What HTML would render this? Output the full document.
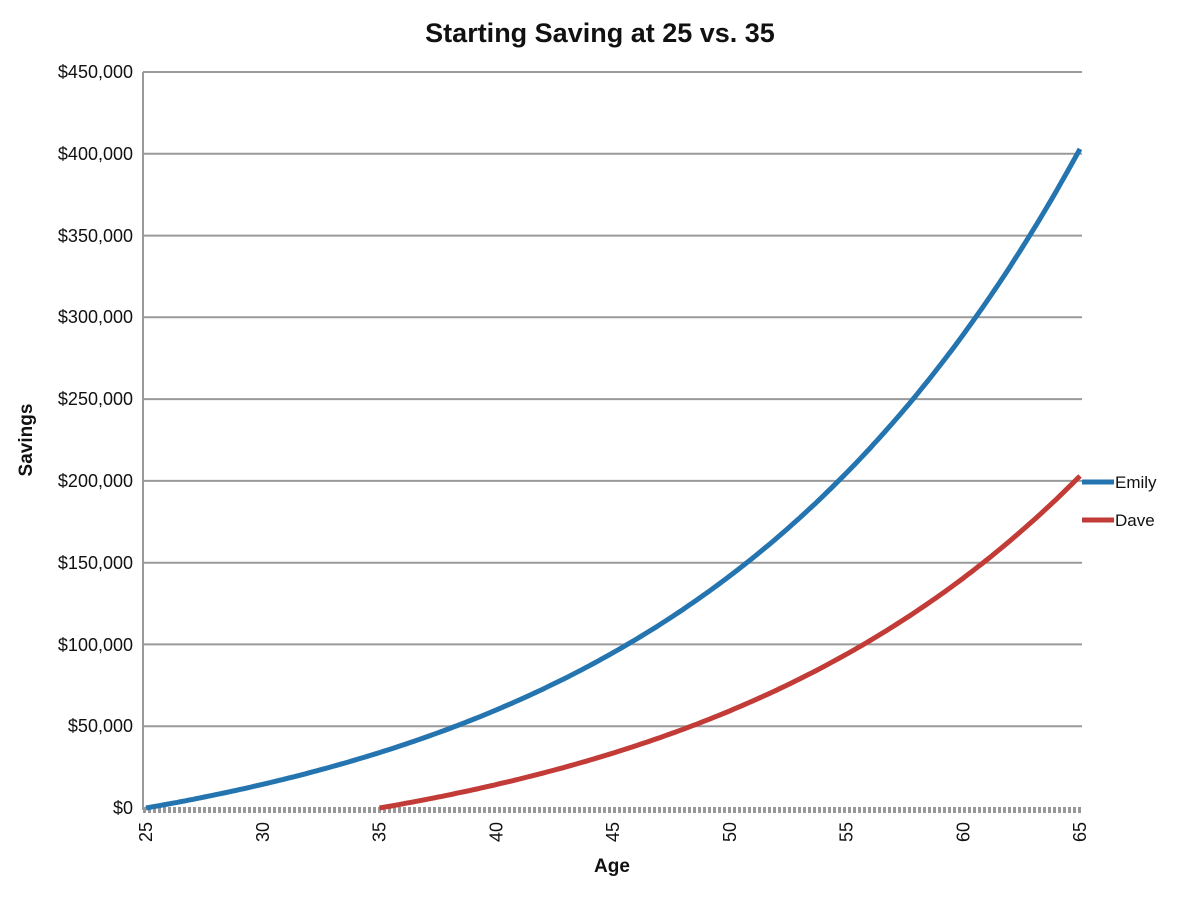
<!DOCTYPE html>
<html><head><meta charset="utf-8"><style>
body{margin:0;background:#fff;}
svg text{font-family:"Liberation Sans",sans-serif;}
</style></head><body>
<svg id="s" width="1200" height="896" xmlns="http://www.w3.org/2000/svg">
<rect width="1200" height="896" fill="#fff"/>
<text x="600" y="42" text-anchor="middle" font-size="27" font-weight="bold" fill="#111">Starting Saving at 25 vs. 35</text>
<g stroke="#9a9a9a" stroke-width="2">
<line x1="143" x2="1082" y1="72" y2="72"/><line x1="143" x2="1082" y1="153.8" y2="153.8"/>
<line x1="143" x2="1082" y1="235.6" y2="235.6"/><line x1="143" x2="1082" y1="317.3" y2="317.3"/>
<line x1="143" x2="1082" y1="399.1" y2="399.1"/><line x1="143" x2="1082" y1="480.9" y2="480.9"/>
<line x1="143" x2="1082" y1="562.7" y2="562.7"/><line x1="143" x2="1082" y1="644.4" y2="644.4"/>
<line x1="143" x2="1082" y1="726.2" y2="726.2"/>
<line x1="143" x2="143" y1="72" y2="810"/>
</g>
<line x1="143" x2="1082" y1="810" y2="810" stroke="#999" stroke-width="6" stroke-dasharray="3,2"/>
<g font-size="18" text-anchor="end" fill="#111">
<text x="133" y="78">$450,000</text><text x="133" y="160">$400,000</text><text x="133" y="242">$350,000</text>
<text x="133" y="323">$300,000</text><text x="133" y="405">$250,000</text><text x="133" y="487">$200,000</text>
<text x="133" y="569">$150,000</text><text x="133" y="651">$100,000</text><text x="133" y="732">$50,000</text>
<text x="133" y="814">$0</text>
</g>
<g id="xt" font-size="18" fill="#111"></g>
<text x="612" y="872" text-anchor="middle" font-size="19" font-weight="bold" fill="#111">Age</text>
<text transform="translate(32,440) rotate(-90)" text-anchor="middle" font-size="19" font-weight="bold" fill="#111">Savings</text>
<path id="e" fill="none" stroke="#2474b0" stroke-width="5"/>
<path id="d" fill="none" stroke="#c23b36" stroke-width="5"/>
<line x1="1082" x2="1114" y1="482" y2="482" stroke="#2474b0" stroke-width="5"/>
<text x="1115" y="488" font-size="17" fill="#111">Emily</text>
<line x1="1082" x2="1114" y1="520" y2="520" stroke="#c23b36" stroke-width="5"/>
<text x="1115" y="526" font-size="17" fill="#111">Dave</text>
</svg>
<script>
var r=0.059/12;function fv(m){return (Math.pow(1+r,m)-1)/r;}
var P=403000/fv(480);
function X(a){return 146+(a-25)*23.35;}
function Y(v){return 808-v*(736/450000);}
var e="",d="";
for(var m=0;m<=480;m+=2){var a=25+m/12;e+=(m?"L":"M")+X(a).toFixed(1)+","+Y(P*fv(m)).toFixed(1);}
for(var m=0;m<=360;m+=2){var a=35+m/12;d+=(m?"L":"M")+X(a).toFixed(1)+","+Y(fv(m)*203000/fv(360)).toFixed(1);}
document.getElementById("e").setAttribute("d",e);
document.getElementById("d").setAttribute("d",d);
var g=document.getElementById("xt"),h="";
for(var a=25;a<=65;a+=5){h+='<text transform="translate('+(X(a)+6)+',832) rotate(-90)" text-anchor="middle">'+a+'</text>';}
g.innerHTML=h;
</script>
</body></html>
